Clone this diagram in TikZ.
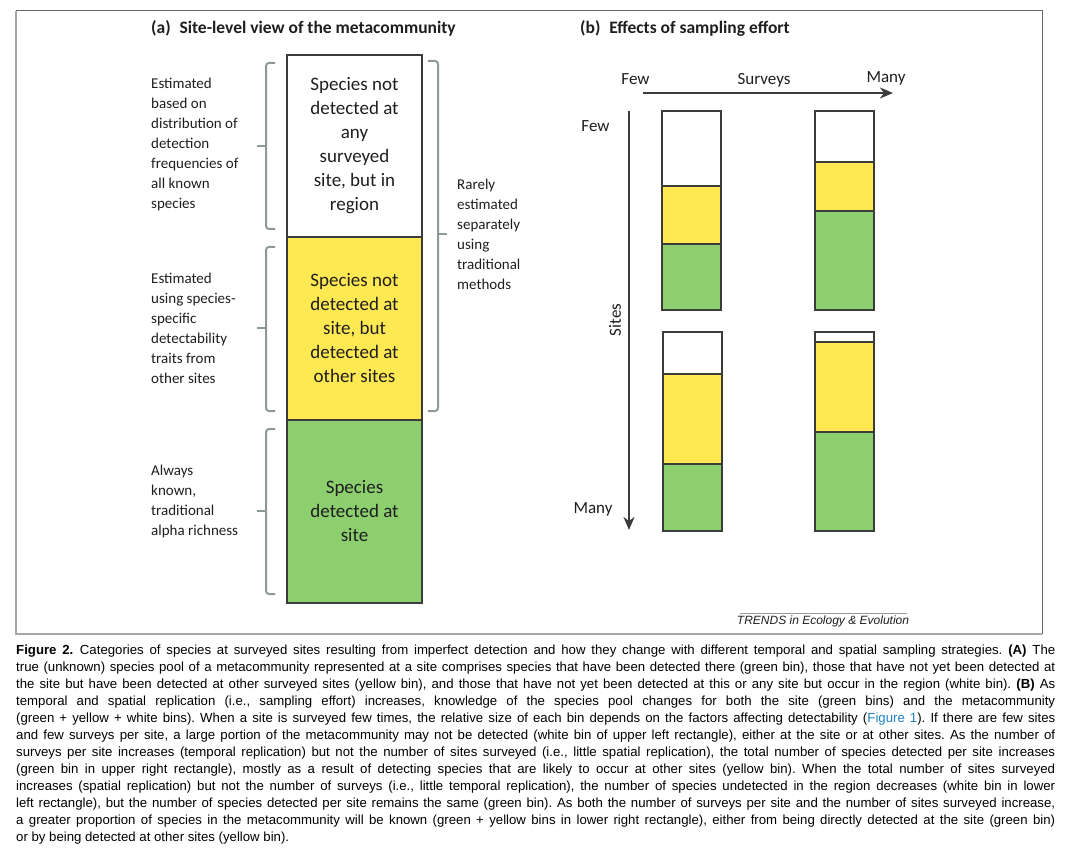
\documentclass[tikz,border=0pt]{standalone}
\usepackage{fontspec}
\setmainfont{Carlito}
\newfontfamily\captionfont{Liberation Sans}
\usetikzlibrary{arrows.meta}

\definecolor{binYellow}{HTML}{FFE952}
\definecolor{binGreen}{HTML}{8DCF6F}
\definecolor{braceGray}{HTML}{8D9898}
\definecolor{edgeGray}{HTML}{3C3C3C}
\definecolor{textDark}{HTML}{1E1E1E}
\definecolor{linkBlue}{HTML}{1F80C2}

\begin{document}
\begin{tikzpicture}[x=1pt, y=-1pt,
    bin/.style={draw=edgeGray, line width=1.5pt, minimum width=135pt, inner sep=0pt,
        align=center, text=textDark, font=\fontsize{19}{24}\selectfont},
    note/.style={anchor=west, align=left, inner sep=0pt, text=textDark,
        font=\fontsize{15}{20}\selectfont},
    braceline/.style={draw=braceGray, line width=2pt, rounded corners=3pt},
    axis/.style={draw=edgeGray, line width=2pt, -{Stealth[length=13pt, width=11pt, inset=4pt]}},
    axislabel/.style={inner sep=0pt, text=textDark, font=\fontsize{17}{20}\selectfont},
    paneltitle/.style={anchor=west, inner sep=0pt, text=textDark, font=\bfseries\fontsize{17.5}{20}\selectfont}]

    \useasboundingbox (0,0) rectangle (1073,858);

    % Frame
    \draw[draw=gray!70, line width=1.5pt] (16,11) -- (16,634) -- (1042,634);
    \draw[draw=gray!120, line width=1pt] (16,11) -- (1042,11) -- (1042,634);

    % Panel titles
    \node[paneltitle] (titleA) at (151,28) {(a)\enspace Site-level view of the metacommunity};
    \node[paneltitle] (titleB) at (580,28) {(b)\enspace Effects of sampling effort};

    % Panel (a): the three bins
    \node[bin, minimum height=182pt] (binWhite) at (354.5,146)
        {Species not\\detected at\\any\\surveyed\\site, but in\\region};
    \node[bin, minimum height=183pt, fill=binYellow] (binYellow) at (354.5,328.5)
        {Species not\\detected at\\site, but\\detected at\\other sites};
    \node[bin, minimum height=183pt, fill=binGreen] (binGreen) at (354.5,511.5)
        {Species\\detected at\\site};

    % Left braces and their notes
    \foreach \top/\mid/\bot in {63/146/229, 247/328/411, 429/511/594} {
        \draw[braceline] (275,\top) -- (266,\top) -- (266,\bot) -- (275,\bot);
        \draw[braceline] (266,\mid) -- (257,\mid);
    }
    \node[note] (noteWhite) at (151,145)
        {Estimated\\based on\\distribution of\\detection\\frequencies of\\all known\\species};
    \node[note] (noteYellow) at (151,328)
        {Estimated\\using species-\\specific\\detectability\\traits from\\other sites};
    \node[note] (noteGreen) at (151,501)
        {Always\\known,\\traditional\\alpha richness};

    % Right brace
    \draw[braceline] (428,61) -- (438,61) -- (438,411) -- (428,411);
    \draw[braceline] (438,234) -- (447,234);
    \node[note] (noteRare) at (457,234)
        {Rarely\\estimated\\separately\\using\\traditional\\methods};

    % Panel (b): axes
    \coordinate (surveysStart) at (643,93);
    \coordinate (surveysEnd) at (893,93);
    \draw[axis] (surveysStart) -- (surveysEnd);
    \node[axislabel] (surveysFew) at (635.5,79) {Few};
    \node[axislabel] (surveysName) at (764,80) {Surveys};
    \node[axislabel] (surveysMany) at (886,78) {Many};

    \coordinate (sitesStart) at (629,111);
    \coordinate (sitesEnd) at (629,530);
    \draw[axis] (sitesStart) -- (sitesEnd);
    \node[axislabel] (sitesFew) at (595.5,126) {Few};
    \node[axislabel, rotate=90] (sitesName) at (615,320) {Sites};
    \node[axislabel] (sitesMany) at (593,509) {Many};

    % Panel (b): bars (left, top, white/yellow edge, yellow/green edge)
    \foreach \bx/\by/\wy/\yy in {662/111/186/244, 815/111/162/211, 663/332/374/464, 815/332/342/432} {
        \fill[binGreen] (\bx,\yy) rectangle (\bx+59,\by+199);
        \fill[binYellow] (\bx,\wy) rectangle (\bx+59,\yy);
        \fill[white] (\bx,\by) rectangle (\bx+59,\wy);
        \draw[draw=edgeGray, line width=1.5pt] (\bx,\by) rectangle (\bx+59,\by+199);
        \draw[draw=edgeGray, line width=1.5pt] (\bx,\wy) -- (\bx+59,\wy) (\bx,\yy) -- (\bx+59,\yy);
    }

    % Journal mark
    \draw[draw=gray!80, line width=1pt] (740,613) -- (907,613);
    \node[inner sep=0pt, text=textDark, font=\captionfont\itshape\fontsize{12}{14}\selectfont]
        (journal) at (823,621) {TRENDS in Ecology \& Evolution};

    % Caption
    \node[anchor=north west, inner sep=0pt, text width=1039pt, align=justify, text=black,
        font=\captionfont\fontsize{13.2}{17}\selectfont] (caption) at (16,645) {\hyphenpenalty=10000\frenchspacing
        \textbf{Figure 2.}\enspace Categories of species at surveyed sites resulting from imperfect detection and how they change with different temporal and spatial sampling strategies. \textbf{(A)} The\linebreak
        true (unknown) species pool of a metacommunity represented at a site comprises species that have been detected there (green bin), those that have not yet been detected at\linebreak
        the site but have been detected at other surveyed sites (yellow bin), and those that have not yet been detected at this or any site but occur in the region (white bin). \textbf{(B)} As\linebreak
        temporal and spatial replication (i.e., sampling effort) increases, knowledge of the species pool changes for both the site (green bins) and the metacommunity\linebreak
        (green + yellow + white bins). When a site is surveyed few times, the relative size of each bin depends on the factors affecting detectability (\textcolor{linkBlue}{Figure 1}). If there are few sites\linebreak
        and few surveys per site, a large portion of the metacommunity may not be detected (white bin of upper left rectangle), either at the site or at other sites. As the number of\linebreak
        surveys per site increases (temporal replication) but not the number of sites surveyed (i.e., little spatial replication), the total number of species detected per site increases\linebreak
        (green bin in upper right rectangle), mostly as a result of detecting species that are likely to occur at other sites (yellow bin). When the total number of sites surveyed\linebreak
        increases (spatial replication) but not the number of surveys (i.e., little temporal replication), the number of species undetected in the region decreases (white bin in lower\linebreak
        left rectangle), but the number of species detected per site remains the same (green bin). As both the number of surveys per site and the number of sites surveyed increase,\linebreak
        a greater proportion of species in the metacommunity will be known (green + yellow bins in lower right rectangle), either from being directly detected at the site (green bin)\linebreak
        or by being detected at other sites (yellow bin).};

\end{tikzpicture}
\end{document}
